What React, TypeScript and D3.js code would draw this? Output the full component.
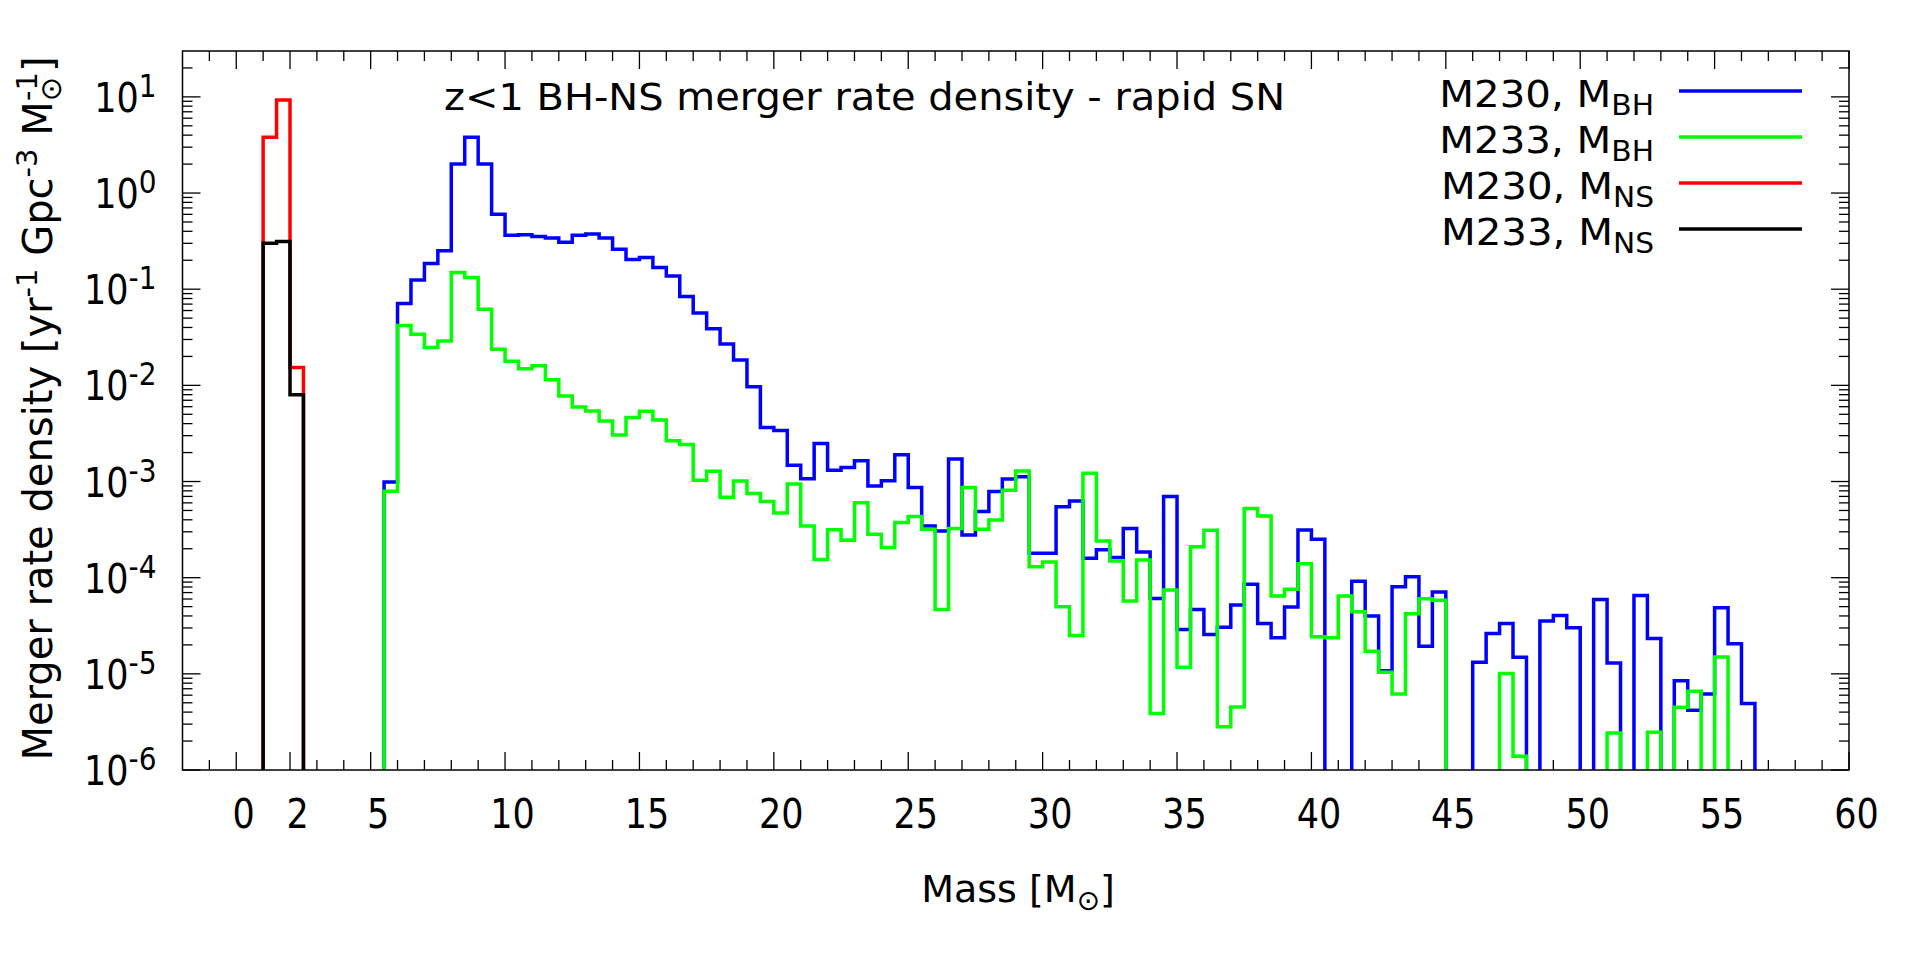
import React from 'react';
import * as d3 from 'd3';

// bin lower edges (width 0.5 Msun)
const binWidth = 0.5;
const nsBins = [1.0, 1.5, 2.0];
const bhBins = d3.range(5.5, 56.5, 0.5);

const m230NS = [3.8, 9.3, 0.0153];
const m233NS = [0.3, 0.313, 0.008];

// 5.5 ... 56.0
const m230BH = [
  9.9e-4, 0.071, 0.125, 0.185, 0.251, 2.0, 3.8, 2.0, 0.6, 0.363,
  0.368, 0.354, 0.34, 0.307, 0.365, 0.376, 0.34, 0.26, 0.204, 0.214,
  0.168, 0.137, 0.0841, 0.0565, 0.0389, 0.027, 0.0183, 0.00967, 0.00364, 0.0034,
  0.00148, 0.00107, 0.00249, 0.00131, 0.0014, 0.00164, 9.0e-4, 1.02e-3, 1.9e-3, 8.67e-4,
  3.45e-4, 3.06e-4, 1.71e-3, 2.78e-4, 4.88e-4, 7.87e-4, 1.06e-3, 1.12e-3, 1.79e-4, 1.79e-4,
  5.45e-4, 6.29e-4, 1.59e-4, 1.95e-4, 1.62e-4, 3.25e-4, 1.85e-4, 6.09e-5, 6.98e-4, 2.9e-5,
  4.68e-5, 2.57e-5, 3.06e-5, 5.19e-5, 8.53e-5, 3.34e-5, 2.37e-5, 4.95e-5, 3.14e-4, 2.51e-4,
  0, 0, 9.2e-5, 3.99e-5, 1.08e-5, 8.05e-5, 1.02e-4, 1.94e-5, 7.09e-5, 0,
  0, 1.32e-5, 2.63e-5, 3.34e-5, 1.49e-5, 0, 3.54e-5, 4.05e-5, 3.01e-5, 0,
  5.94e-5, 1.3e-5, 0, 6.54e-5, 2.33e-5, 0, 8.5e-6, 4.18e-6, 6.18e-6, 4.87e-5,
  2.05e-5, 4.91e-6,
];

const m233BH = [
  7.9e-4, 0.042, 0.034, 0.0247, 0.029, 0.149, 0.132, 0.0618, 0.0237, 0.0178,
  0.0149, 0.016, 0.01145, 0.00773, 0.00594, 0.00542, 0.00425, 0.00305, 0.00463, 0.00538,
  0.00435, 0.00265, 0.00242, 0.00103, 0.00128, 6.87e-4, 1.01e-3, 7.5e-4, 6.18e-4, 4.7e-4,
  9.4e-4, 3.44e-4, 1.55e-4, 3.15e-4, 2.45e-4, 6.0e-4, 2.83e-4, 2.06e-4, 3.74e-4, 4.32e-4,
  3.19e-4, 4.68e-5, 3.25e-4, 8.67e-4, 3.19e-4, 3.99e-4, 8.13e-4, 1.29e-3, 1.3e-4, 1.46e-4,
  4.99e-5, 2.51e-5, 1.22e-3, 2.41e-4, 1.49e-4, 5.71e-5, 1.53e-4, 3.87e-6, 7.45e-5, 1.17e-5,
  2.1e-4, 3.11e-4, 2.81e-6, 4.53e-6, 5.24e-4, 4.39e-4, 6.45e-5, 7.57e-5, 1.4e-4, 2.43e-5,
  2.37e-5, 6.45e-5, 4.42e-5, 1.72e-5, 1.04e-5, 6.18e-6, 4.22e-5, 6.04e-5, 5.81e-5, 0,
  0, 0, 0, 1.01e-5, 1.39e-6, 0, 0, 0, 0, 0,
  0, 2.43e-6, 0, 0, 2.47e-6, 0, 4.49e-6, 6.59e-6, 0, 1.5e-5,
  0, 0,
];

const xMajor = [0, 2, 5, 10, 15, 20, 25, 30, 35, 40, 45, 50, 55, 60];
const yExponents = [-6, -5, -4, -3, -2, -1, 0, 1];

const series = [
  { name: 'M230, ', sub: 'BH', color: '#0000ff', bins: bhBins, values: m230BH },
  { name: 'M233, ', sub: 'BH', color: '#00ff00', bins: bhBins, values: m233BH },
  { name: 'M230, ', sub: 'NS', color: '#ff0000', bins: nsBins, values: m230NS },
  { name: 'M233, ', sub: 'NS', color: '#000000', bins: nsBins, values: m233NS },
];

const W = 1920;
const H = 961;
const plot = { left: 182.5, right: 1849, top: 51, bottom: 770 };
const font = '"DejaVu Sans", sans-serif';

const x = d3.scaleLinear().domain([-2, 60]).range([plot.left, plot.right]);
const y = d3.scaleLog().domain([1e-6, 30]).range([plot.bottom, plot.top]);

const stepPath = (starts: number[], values: number[]) => {
  const pts: [number, number][] = [[starts[0], 0]];
  starts.forEach((s, i) => {
    pts.push([s, values[i]]);
    pts.push([s + binWidth, values[i]]);
  });
  pts.push([starts[starts.length - 1] + binWidth, 0]);
  return d3
    .line<[number, number]>()
    .x((d) => x(d[0]))
    .y((d) => (d[1] > 0 ? y(d[1]) : plot.bottom + 20))(pts);
};

const App = () => {
  const xMinor = d3.range(-1, 60).filter((v) => !xMajor.includes(v));
  const yMinor: number[] = [];
  yExponents.forEach((e) => {
    for (let k = 2; k <= 9; k++) {
      const v = k * Math.pow(10, e);
      if (v < 30) yMinor.push(v);
    }
  });
  const major = 18;
  const minor = 10;

  return (
    <svg
      width={W}
      height={H}
      style={{ position: 'absolute', left: 0, top: 0, background: '#fff' }}
      fontFamily={font}
    >
      <defs>
        <clipPath id="plot-area">
          <rect
            x={plot.left}
            y={plot.top}
            width={plot.right - plot.left}
            height={plot.bottom - plot.top}
          />
        </clipPath>
      </defs>

      {/* ticks, mirrored on all sides */}
      <g stroke="#000" strokeWidth={1.3}>
        {xMajor.map((v) => (
          <g key={'xm' + v}>
            <line x1={x(v)} x2={x(v)} y1={plot.bottom} y2={plot.bottom - major} />
            <line x1={x(v)} x2={x(v)} y1={plot.top} y2={plot.top + major} />
          </g>
        ))}
        {xMinor.map((v) => (
          <g key={'xn' + v}>
            <line x1={x(v)} x2={x(v)} y1={plot.bottom} y2={plot.bottom - minor} />
            <line x1={x(v)} x2={x(v)} y1={plot.top} y2={plot.top + minor} />
          </g>
        ))}
        {yExponents.map((e) => (
          <g key={'ym' + e}>
            <line x1={plot.left} x2={plot.left + major} y1={y(10 ** e)} y2={y(10 ** e)} />
            <line x1={plot.right} x2={plot.right - major} y1={y(10 ** e)} y2={y(10 ** e)} />
          </g>
        ))}
        {yMinor.map((v, i) => (
          <g key={'yn' + i}>
            <line x1={plot.left} x2={plot.left + minor} y1={y(v)} y2={y(v)} />
            <line x1={plot.right} x2={plot.right - minor} y1={y(v)} y2={y(v)} />
          </g>
        ))}
      </g>

      {/* tick labels */}
      <g fontSize={35} fill="#000">
        {xMajor.map((v) => (
          <text
            key={'xl' + v}
            transform={`translate(${x(v) + 7.5},828) scale(1,1.15)`}
            textAnchor="middle"
          >
            {v}
          </text>
        ))}
        {yExponents.map((e) => (
          <text
            key={'yl' + e}
            transform={`translate(156.5,${y(10 ** e) + 15}) scale(1,1.15)`}
            textAnchor="end"
          >
            10
            <tspan fontSize={28} dy={-13}>
              {e}
            </tspan>
          </text>
        ))}
      </g>

      {/* histograms */}
      <g clipPath="url(#plot-area)" fill="none" strokeWidth={3.5} strokeLinejoin="miter">
        {series.map((s, i) => (
          <path key={i} d={stepPath(s.bins, s.values) || ''} stroke={s.color} />
        ))}
      </g>

      <rect
        x={plot.left}
        y={plot.top}
        width={plot.right - plot.left}
        height={plot.bottom - plot.top}
        fill="none"
        stroke="#000"
        strokeWidth={1.5}
      />

      {/* title */}
      <text
        x={864.5}
        y={110}
        fontSize={37}
        textAnchor="middle"
        textLength={841}
        lengthAdjust="spacingAndGlyphs"
      >
        z&lt;1 BH-NS merger rate density - rapid SN
      </text>

      {/* legend */}
      {series.map((s, i) => {
        const ly = 91 + i * 46;
        return (
          <g key={'lg' + i}>
            <text
              transform={`translate(1654,${ly + 16}) scale(1.06,1)`}
              fontSize={38}
              textAnchor="end"
            >
              {s.name}M
              <tspan fontSize={28} dy={8}>
                {s.sub}
              </tspan>
            </text>
            <line x1={1679} x2={1802} y1={ly} y2={ly} stroke={s.color} strokeWidth={3.5} />
          </g>
        );
      })}

      {/* axis labels */}
      <text x={1018} y={902} fontSize={38} textAnchor="middle">
        Mass [M
        <tspan fontSize={28} dy={8}>
          ⊙
        </tspan>
        <tspan dy={-8}>]</tspan>
      </text>

      <text
        transform={`translate(52,${(plot.top + plot.bottom) / 2 - 2}) rotate(-90)`}
        fontSize={40}
        textAnchor="middle"
      >
        Merger rate density [yr
        <tspan fontSize={29} dy={-15}>
          -1
        </tspan>
        <tspan dy={15}> Gpc</tspan>
        <tspan fontSize={29} dy={-15}>
          -3
        </tspan>
        <tspan dy={15}> M</tspan>
        <tspan fontSize={29} dy={9}>
          ⊙
        </tspan>
        <tspan fontSize={29} dx={-24} dy={-24}>
          -1
        </tspan>
        <tspan dy={15}>]</tspan>
      </text>
    </svg>
  );
};

export default App;
